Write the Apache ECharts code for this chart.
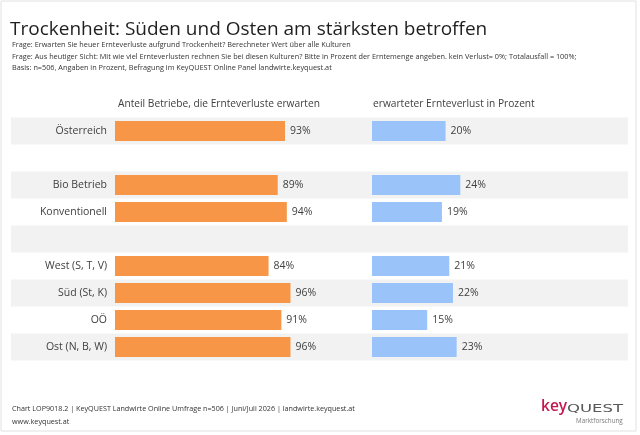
<!DOCTYPE html>
<html>
<head>
<meta charset="utf-8">
<script src="https://cdn.jsdelivr.net/npm/echarts@6/dist/echarts.min.js"></script>
<style>
  html, body { margin: 0; padding: 0; background: #fff; }
  #chart { width: 640px; height: 435px; }
</style>
</head>
<body>
<div id="chart"></div>
<script>
var categories = ['Österreich', '', 'Bio Betrieb', 'Konventionell', '', 'West (S, T, V)', 'Süd (St, K)', 'OÖ', 'Ost (N, B, W)'];
var shareExpectingLoss = [93, null, 89, 94, null, 84, 96, 91, 96];
var expectedLoss = [20, null, 24, 19, null, 21, 22, 15, 23];
var stripeValues = [1, 1, 1, 1, 1, 1, 1, 1, 1];

var FONT = '"Open Sans", sans-serif';
var TEXT = '#404040';

var myChart = echarts.init(document.getElementById('chart'));

var gridTop = 117.5, gridHeight = 243;

var option = {
    backgroundColor: '#fff',
    animation: false,
    textStyle: { fontFamily: FONT },
    title: {
        text: 'Trockenheit: Süden und Osten am stärksten betroffen',
        left: 5,
        top: 15,
        textStyle: { fontFamily: FONT, fontSize: 19, fontWeight: 'normal', color: '#1f1f1f' }
    },
    grid: [
        { left: 11, top: gridTop, width: 617, height: gridHeight },
        { left: 115, top: gridTop, width: 182.8, height: gridHeight },
        { left: 372, top: gridTop, width: 184, height: gridHeight }
    ],
    xAxis: [
        { gridIndex: 0, type: 'value', min: 0, max: 1, show: false },
        { gridIndex: 1, type: 'value', min: 0, max: 100, show: false },
        { gridIndex: 2, type: 'value', min: 0, max: 50, show: false }
    ],
    yAxis: [
        {
            gridIndex: 0, type: 'category', data: categories, inverse: true,
            axisLine: { show: false }, axisTick: { show: false }, axisLabel: { show: false },
            splitArea: { show: true, areaStyle: { color: ['#f2f2f2', 'rgba(255,255,255,0)'] } }
        },
        {
            gridIndex: 1, type: 'category', data: categories, inverse: true,
            axisLine: { show: false }, axisTick: { show: false },
            axisLabel: { margin: 8, fontSize: 10.5, color: TEXT, fontFamily: FONT }
        },
        {
            gridIndex: 2, type: 'category', data: categories, inverse: true,
            axisLine: { show: false }, axisTick: { show: false }, axisLabel: { show: false }
        }
    ],
    series: [
        {
            type: 'bar', xAxisIndex: 0, yAxisIndex: 0, data: stripeValues,
            itemStyle: { color: 'rgba(0,0,0,0)' }, silent: true
        },
        {
            name: 'Anteil Betriebe, die Ernteverluste erwarten',
            type: 'bar', xAxisIndex: 1, yAxisIndex: 1, data: shareExpectingLoss,
            barWidth: 20,
            itemStyle: { color: '#f79646' },
            label: { show: true, position: 'right', distance: 5, formatter: '{c}%', fontSize: 10.5, color: TEXT, fontFamily: FONT }
        },
        {
            name: 'erwarteter Ernteverlust in Prozent',
            type: 'bar', xAxisIndex: 2, yAxisIndex: 2, data: expectedLoss,
            barWidth: 20,
            itemStyle: { color: '#9ac3fa' },
            label: { show: true, position: 'right', distance: 5, formatter: '{c}%', fontSize: 10.5, color: TEXT, fontFamily: FONT }
        }
    ],
    graphic: [
        { type: 'rect', shape: { x: 1, y: 1, width: 635, height: 430 }, style: { fill: 'none', stroke: '#e2e2e2', lineWidth: 1 }, silent: true },
        { type: 'text', left: 12, top: 41, style: { text: 'Frage: Erwarten Sie heuer Ernteverluste aufgrund Trockenheit? Berechneter Wert über alle Kulturen', font: '7.3px ' + FONT, fill: '#333' } },
        { type: 'text', left: 12, top: 53, style: { text: 'Frage: Aus heutiger Sicht: Mit wie viel Ernteverlusten rechnen Sie bei diesen Kulturen? Bitte in Prozent der Erntemenge angeben. kein Verlust= 0%; Totalausfall = 100%;', font: '7.3px ' + FONT, fill: '#333' } },
        { type: 'text', left: 12, top: 64, style: { text: 'Basis: n=506, Angaben in Prozent, Befragung im KeyQUEST Online Panel landwirte.keyquest.at', font: '7.3px ' + FONT, fill: '#333' } },
        { type: 'text', left: 118, top: 99, style: { text: 'Anteil Betriebe, die Ernteverluste erwarten', font: '10.2px ' + FONT, fill: TEXT } },
        { type: 'text', left: 373, top: 99, style: { text: 'erwarteter Ernteverlust in Prozent', font: '10.2px ' + FONT, fill: TEXT } },
        { type: 'text', left: 12, top: 405, style: { text: 'Chart LOP9018.2 | KeyQUEST Landwirte Online Umfrage n=506 | Juni/Juli 2026 | landwirte.keyquest.at', font: '7.2px ' + FONT, fill: '#333' } },
        { type: 'text', left: 12, top: 418, style: { text: 'www.keyquest.at', font: '7.2px ' + FONT, fill: '#333' } },
        { type: 'text', x: 541, y: 399, style: { x: 0, y: 0, verticalAlign: 'top', text: 'key', font: '600 15.5px ' + FONT, fill: '#c4174f' } },
        { type: 'text', x: 567, y: 403.5, scaleX: 1.5, style: { x: 0, y: 0, verticalAlign: 'top', text: 'QUEST', font: '11px "DejaVu Sans", sans-serif', fill: '#58595b' } },
        { type: 'text', left: 576, top: 418.5, style: { text: 'Marktforschung', font: '6.3px ' + FONT, fill: '#7a7a7a' } }
    ]
};

myChart.setOption(option);
</script>
</body>
</html>
